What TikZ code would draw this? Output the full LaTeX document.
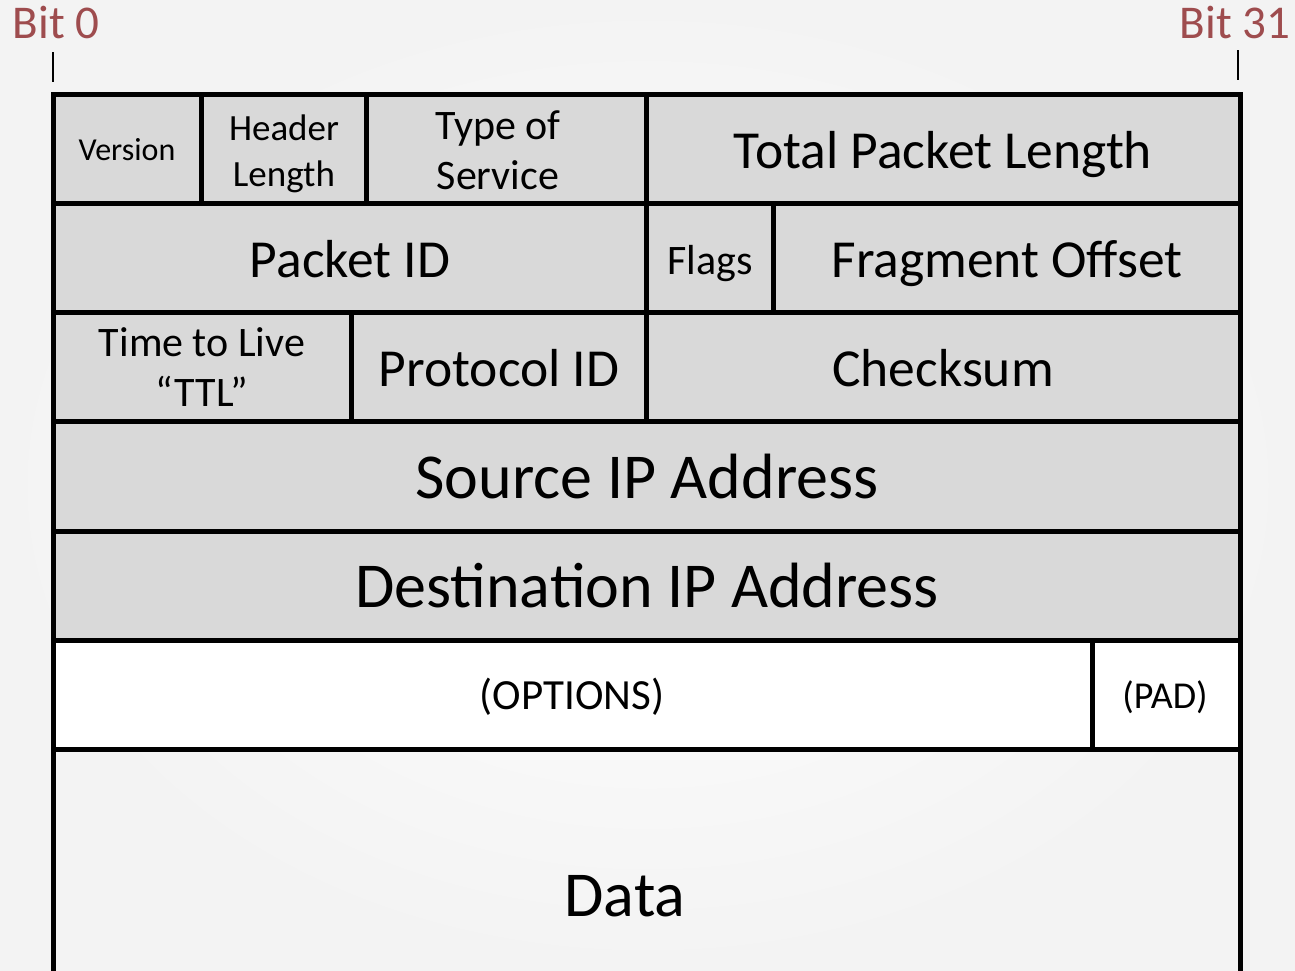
\documentclass[tikz,border=0pt]{standalone}
\usepackage{fontspec}
\setmainfont{Carlito}
\definecolor{cellgray}{HTML}{D9D9D9}
\definecolor{bitred}{RGB}{158,76,78}
\definecolor{bgedge}{HTML}{F3F3F3}
\begin{document}
\begin{tikzpicture}[x=1pt,y=-1pt,
  cellbox/.style={draw=black,line width=5pt,fill=cellgray},
  whitebox/.style={draw=black,line width=5pt,fill=white},
  lbl/.style={inner sep=0pt,anchor=base,text=black},
  fs/.style={font=\fontsize{#1}{#1}\selectfont},
  bitlbl/.style={inner sep=0pt,anchor=base,text=bitred,font=\fontsize{47}{47}\selectfont},
  tickline/.style={draw=black,line width=2pt}]
\useasboundingbox (0,0) rectangle (1295,970);
\shade[inner color=white,outer color=bgedge] (0,0) rectangle (1295,970);
% data area side lines
\draw[line width=5pt] (53.5,740) -- (53.5,980);
\draw[line width=5pt] (1240,740) -- (1240,980);
% row 1
\draw[cellbox] (53.5,94) rectangle (201.5,203);
\draw[cellbox] (201.5,94) rectangle (366,203);
\draw[cellbox] (366,94) rectangle (646,203);
\draw[cellbox] (646,94) rectangle (1240,203);
% row 2
\draw[cellbox] (53.5,203) rectangle (646,312);
\draw[cellbox] (646,203) rectangle (773,312);
\draw[cellbox] (773,203) rectangle (1240,312);
% row 3
\draw[cellbox] (53.5,312) rectangle (351,421);
\draw[cellbox] (351,312) rectangle (646,421);
\draw[cellbox] (646,312) rectangle (1240,421);
% rows 4,5
\draw[cellbox] (53.5,421) rectangle (1240,531);
\draw[cellbox] (53.5,531) rectangle (1240,640);
% row 6
\draw[whitebox] (53.5,640) rectangle (1092,749);
\draw[whitebox] (1092,640) rectangle (1240,749);
% labels
\node[lbl,fs=32] (ver) at (127,160) {Version};
\node[lbl,fs=37] (hl1) at (284,140) {Header};
\node[lbl,fs=37] (hl2) at (284,186) {Length};
\node[lbl,fs=42] (ts1) at (498,139) {Type of};
\node[lbl,fs=42] (ts2) at (498,189) {Service};
\node[lbl,fs=53.5] (tpl) at (943,168) {Total Packet Length};
\node[lbl,fs=53.5] (pid) at (350,277) {Packet ID};
\node[lbl,fs=42] (flg) at (710,274) {Flags};
\node[lbl,fs=53.5] (fro) at (1007,277) {Fragment Offset};
\node[lbl,fs=42] (ttl1) at (202,356) {Time to Live};
\node[lbl,fs=42] (ttl2) at (202,406) {“TTL”};
\node[lbl,fs=53.5] (prt) at (499,386) {Protocol ID};
\node[lbl,fs=53.5] (chk) at (943,386) {Checksum};
\node[lbl,fs=64] (src) at (647,498) {Source IP Address};
\node[lbl,fs=64] (dst) at (647,607) {Destination IP Address};
\node[lbl,fs=43] (opt) at (572,709) {(OPTIONS)};
\node[lbl,fs=38] (pad) at (1165,708) {(PAD)};
\node[lbl,fs=64] (dat) at (625,916) {Data};
% bit markers
\node[bitlbl] (b0) at (56,38) {Bit 0};
\node[bitlbl] (b31) at (1235,38) {Bit 31};
\coordinate (t0a) at (53,52);
\coordinate (t0b) at (53,82);
\coordinate (t31a) at (1238,50);
\coordinate (t31b) at (1238,80);
\draw[tickline] (t0a) -- (t0b);
\draw[tickline] (t31a) -- (t31b);
\end{tikzpicture}
\end{document}
